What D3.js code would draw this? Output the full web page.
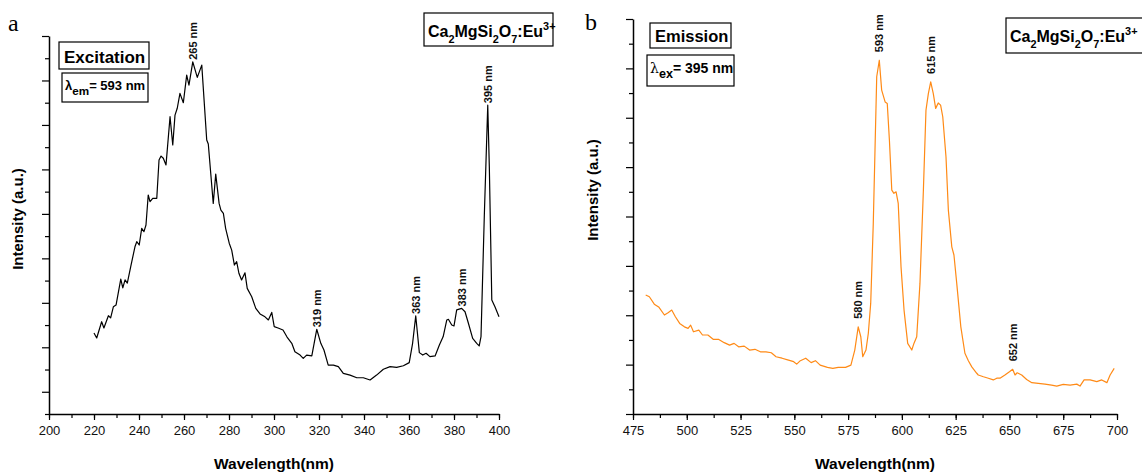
<!DOCTYPE html>
<html>
<head>
<meta charset="utf-8">
<script src="https://cdn.jsdelivr.net/npm/d3@7/dist/d3.min.js"></script>
<style>
  body { margin: 0; background: #fff; }
  svg { font-family: "Liberation Sans", Arial, sans-serif; }
  .domain { stroke: #000; stroke-width: 1.5px; }
  .tick line { stroke: #000; stroke-width: 1.2px; }
</style>
</head>
<body>
<svg id="chart" width="1142" height="472"></svg>
<script>
// excitation spectrum (panel a), lambda_em = 593 nm
var excWl = [220.0, 221.2, 223.4, 224.4, 226.4, 227.4, 228.6, 229.8, 231.9, 232.8, 233.8, 234.8, 236.3, 238.2, 239.0,
  240.1, 241.2, 242.2, 243.1, 244.1, 244.9, 246.1, 247.9, 248.9, 249.8, 250.8, 252.0, 253.8, 255.0, 256.0, 257.0,
  258.2, 259.7, 261.2, 262.2, 263.9, 265.9, 267.9, 270.1, 270.8, 273.0, 274.1, 275.6, 276.4, 277.5, 278.5, 280.1,
  281.2, 282.4, 283.4, 284.4, 285.6, 287.1, 288.1, 290.1, 291.9, 293.8, 296.0, 297.5, 299.0, 300.1, 301.8, 304.0,
  305.8, 307.9, 309.3, 311.6, 313.0, 314.5, 316.8, 319.0, 320.8, 322.2, 324.1, 326.4, 328.6, 330.8, 333.8, 336.8,
  339.7, 342.7, 345.6, 348.6, 351.6, 354.5, 357.5, 360.1, 361.6, 363.0, 364.6, 366.1, 367.6, 369.3, 371.6, 373.5,
  375.2, 376.8, 377.5, 379.0, 380.0, 381.2, 383.4, 384.9, 386.4, 388.3, 390.1, 391.2, 392.0, 393.5, 395.0, 395.7,
  396.8, 398.2, 400.0];
var excInt = [364, 342, 415, 387, 442, 432, 482, 490, 607, 567, 603, 589, 662, 752, 775,
  760, 835, 820, 850, 985, 955, 970, 970, 1142, 1160, 1150, 1120, 1337, 1210, 1344, 1375,
  1442, 1400, 1524, 1479, 1584, 1514, 1569, 1232, 1214, 947, 1079, 947, 917, 902, 835, 768,
  737, 670, 685, 633, 603, 635, 565, 527, 475, 450, 437, 423, 457, 393, 387, 378,
  346, 318, 280, 265, 250, 265, 261, 381, 318, 288, 220, 220, 213, 183, 175, 163,
  163, 153, 175, 201, 213, 210, 217, 231, 318, 441, 276, 265, 273, 258, 261, 310,
  348, 423, 426, 400, 396, 468, 475, 460, 408, 340, 318, 306, 348, 902, 1389, 1112,
  513, 482, 437];

// emission spectrum (panel b), lambda_ex = 395 nm
var emWl = [480.9, 482.6, 484.9, 487.1, 489.6, 491.3, 493.0, 494.7, 496.7, 498.9, 500.6, 501.8, 503.1, 505.6, 507.3,
  509.8, 512.4, 514.9, 517.4, 519.9, 522.0, 524.1, 526.7, 529.2, 531.7, 534.2, 536.8, 539.3, 541.5, 544.3, 546.9,
  549.7, 551.1, 552.8, 555.3, 557.8, 559.8, 562.0, 565.4, 567.9, 570.4, 573.8, 576.3, 578.1, 579.7, 580.9, 581.8,
  583.3, 584.4, 585.5, 586.7, 587.5, 588.3, 589.5, 590.6, 592.2, 593.2, 594.2, 595.3, 596.3, 597.3, 598.3, 599.6,
  601.0, 602.7, 604.6, 605.6, 606.9, 608.4, 610.0, 611.2, 612.3, 613.4, 614.6, 615.7, 616.9, 618.0, 619.0, 620.5,
  621.6, 623.2, 624.2, 625.5, 627.4, 629.3, 630.9, 632.5, 634.8, 635.5, 637.9, 640.2, 642.5, 644.1, 645.6, 647.9,
  650.0, 651.5, 652.6, 653.6, 655.7, 658.0, 660.4, 663.4, 666.5, 669.6, 672.0, 675.0, 678.2, 681.3, 682.8, 684.7,
  687.5, 690.6, 692.9, 695.3, 696.8, 698.7];
var emInt = [482, 475, 445, 432, 401, 410, 421, 394, 367, 353, 347, 360, 333, 340, 320,
  320, 302, 302, 289, 279, 286, 272, 275, 259, 262, 252, 252, 248, 232, 226, 219,
  212, 202, 216, 226, 208, 216, 198, 189, 185, 189, 189, 198, 259, 353, 313, 232,
  259, 327, 448, 772, 1069, 1366, 1433, 1312, 1264, 1258, 1109, 907, 894, 900, 853, 596,
  421, 286, 259, 286, 313, 529, 907, 1231, 1298, 1345, 1298, 1238, 1260, 1251, 1204, 1042,
  826, 677, 644, 529, 353, 246, 216, 191, 165, 158, 151, 145, 138, 145, 145, 158,
  171, 181, 158, 167, 158, 140, 127, 124, 121, 117, 113, 120, 117, 121, 113, 138,
  138, 131, 138, 127, 158, 185];

var excPeaks = [265, 319, 363, 383, 395];
var emPeaks = [580, 593, 615, 652];

var excXTicks = d3.range(200, 401, 20);
var emXTicks = d3.range(475, 701, 25);

var svg = d3.select("#chart");

function drawPanel(cfg) {
  var g = svg.append("g");
  var x = d3.scaleLinear().domain(cfg.xDomain).range(cfg.xRange);
  var y = d3.scaleLinear().domain(cfg.yDomain).range(cfg.yRange);

  // minor x ticks (no labels)
  g.append("g")
    .attr("transform", "translate(0," + cfg.yRange[0] + ")")
    .call(d3.axisBottom(x).tickValues(cfg.xMinor).tickSize(4).tickSizeOuter(0).tickFormat(""))
    .call(function(a) { a.select(".domain").remove(); });
  // major x ticks
  g.append("g")
    .attr("transform", "translate(0," + cfg.yRange[0] + ")")
    .call(d3.axisBottom(x).tickValues(cfg.xTicks).tickSize(6).tickSizeOuter(0).tickPadding(6))
    .call(function(a) {
      a.selectAll("text").attr("font-size", 13).attr("font-family", "Liberation Sans, Arial, sans-serif").attr("fill", "#111");
    });

  // y axis, no labels, alternating tick lengths
  var yT = d3.range(cfg.yDomain[0], cfg.yDomain[1] + 1, 100);
  g.append("g")
    .attr("transform", "translate(" + cfg.xRange[0] + ",0)")
    .call(d3.axisLeft(y).tickValues(yT).tickSizeOuter(0).tickFormat(""))
    .call(function(a) {
      a.selectAll(".tick line").attr("x2", function(d) { return cfg.isMajorY(d) ? -7 : -4; });
    });

  // spectrum line
  var pts = cfg.wl.map(function(w, i) { return [w, cfg.int[i]]; });
  g.append("path")
    .datum(pts)
    .attr("fill", "none")
    .attr("stroke", cfg.color)
    .attr("stroke-width", 1.2)
    .attr("stroke-linejoin", "round")
    .attr("d", d3.line().x(function(d) { return x(d[0]); }).y(function(d) { return y(d[1]); }));

  // peak labels, placed above the highest point near each peak
  cfg.peaks.forEach(function(p) {
    var near = pts.filter(function(d) { return Math.abs(d[0] - p) <= cfg.peakWin; });
    var top = d3.greatest(near, function(d) { return d[1]; });
    g.append("text")
      .attr("transform", "translate(" + x(top[0]) + "," + (y(top[1]) - cfg.labelGap) + ") rotate(-90)")
      .attr("dy", "0.35em")
      .attr("font-size", 11)
      .attr("font-weight", "bold")
      .attr("fill", "#111")
      .text(p + " nm");
  });

  // axis titles
  g.append("text")
    .attr("x", (cfg.xRange[0] + cfg.xRange[1]) / 2)
    .attr("y", 469)
    .attr("text-anchor", "middle")
    .attr("font-size", 15.5)
    .attr("font-weight", "bold")
    .text("Wavelength(nm)");
  g.append("text")
    .attr("transform", "translate(" + cfg.yTitle[0] + "," + cfg.yTitle[1] + ") rotate(-90)")
    .attr("text-anchor", "middle")
    .attr("font-size", 15)
    .attr("font-weight", "bold")
    .text("Intensity (a.u.)");

  // panel letter
  g.append("text")
    .attr("x", cfg.letter[0]).attr("y", cfg.letter[1])
    .attr("font-family", "Liberation Serif, Times New Roman, serif")
    .attr("font-size", 24)
    .text(cfg.letter[2]);

  return g;
}

// boxed text helper; parts = [[text, "n"|"sub"|"sup", fontOverride]]
function boxText(g, bx, by, bw, bh, tx, ty, size, subScale, parts) {
  g.append("rect")
    .attr("x", bx).attr("y", by).attr("width", bw).attr("height", bh)
    .attr("fill", "#fff").attr("stroke", "#000").attr("stroke-width", 1.2);
  var t = g.append("text").attr("x", tx).attr("y", ty)
    .attr("font-size", size).attr("font-weight", "bold").attr("fill", "#000");
  var shift = 0;
  parts.forEach(function(p) {
    var s = t.append("tspan").text(p[0]);
    var target = p[1] === "sub" ? size * 0.35 : p[1] === "sup" ? -size * 0.45 : 0;
    s.attr("dy", target - shift);
    shift = target;
    if (p[1] !== "n") s.attr("font-size", size * subScale);
    if (p[2]) s.attr("font-family", p[2]).attr("font-weight", "normal");
  });
}

var ga = drawPanel({
  xDomain: [200, 400], xRange: [49, 499],
  yDomain: [0, 1700], yRange: [414, 36],
  xTicks: excXTicks, xMinor: d3.range(200, 401, 10),
  isMajorY: function(d) { return (d / 100) % 2 === 1; },
  wl: excWl, int: excInt, color: "#000",
  peaks: excPeaks, peakWin: 3, labelGap: 2,
  yTitle: [23, 219], letter: [8, 31, "a"]
});
boxText(ga, 59, 42, 90, 27, 64, 63, 17, 0.68, [["Excitation", "n"]]);
boxText(ga, 62, 73, 86, 29, 65, 90, 13, 0.9, [["λ", "n"], ["em", "sub"], ["= 593 nm", "n"]]);
boxText(ga, 424, 13, 129, 33, 428, 37, 16, 0.68,
  [["Ca", "n"], ["2", "sub"], ["MgSi", "n"], ["2", "sub"], ["O", "n"], ["7", "sub"], [":Eu", "n"], ["3+", "sup"]]);

var gb = drawPanel({
  xDomain: [475, 700], xRange: [633, 1117],
  yDomain: [0, 1600], yRange: [414, 19],
  xTicks: emXTicks, xMinor: d3.range(475, 701, 12.5),
  isMajorY: function(d) { return (d / 100) % 2 === 0; },
  wl: emWl, int: emInt, color: "#ff8a16",
  peaks: emPeaks, peakWin: 4, labelGap: 8,
  yTitle: [598, 190], letter: [585, 30, "b"]
});
boxText(gb, 650, 23, 81, 25, 655, 42, 16.5, 0.68, [["Emission", "n"]]);
boxText(gb, 647, 55, 87, 31, 650, 73, 14, 0.9, [["λ", "n", "DejaVu Serif, serif"], ["ex", "sub"], ["= 395 nm", "n"]]);
boxText(gb, 1006, 18, 140, 35, 1010, 42, 16, 0.68,
  [["Ca", "n"], ["2", "sub"], ["MgSi", "n"], ["2", "sub"], ["O", "n"], ["7", "sub"], [":Eu", "n"], ["3+", "sup"]]);
</script>
</body>
</html>
